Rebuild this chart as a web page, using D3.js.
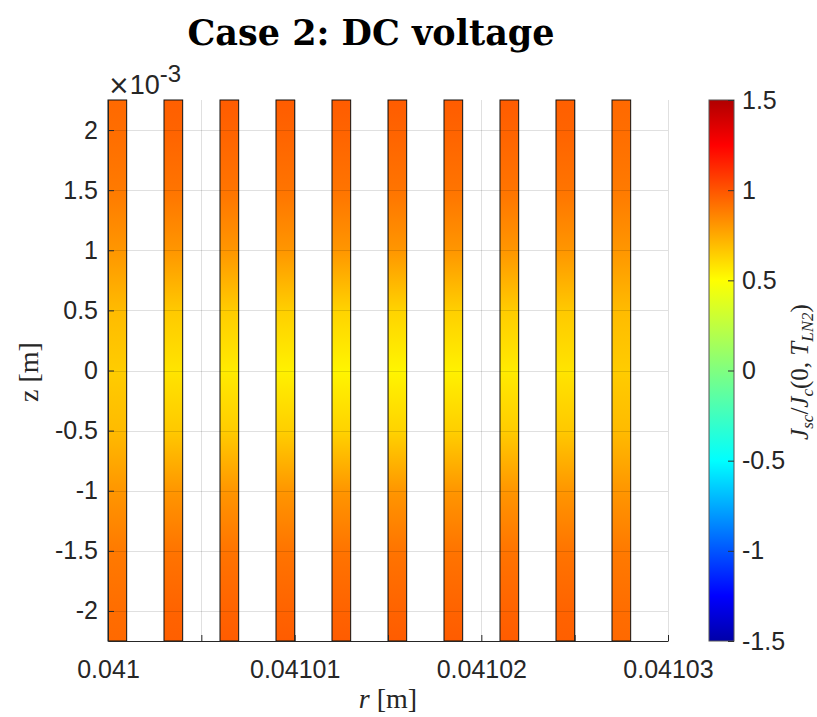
<!DOCTYPE html>
<html>
<head>
<meta charset="utf-8">
<script src="https://cdn.jsdelivr.net/npm/d3@7"></script>
<style>
body { margin: 0; background: #fff; }
</style>
</head>
<body>
<svg id="chart" width="817" height="717"></svg>
<script>
// tape inner radius [m] and thickness
var tapeR = [0.041, 0.041003, 0.041006, 0.041009, 0.041012, 0.041015, 0.041018, 0.041021, 0.041024, 0.041027];
var tapeThick = 1e-6;

// z positions (x1e-3 m) where the current density is read
var zLevels = [-2.25, -2, -1.5, -1, -0.5, 0, 0.5, 1, 1.5, 2, 2.25];

// Jsc/Jc(0,T_LN2) along z, one row per tape
var tapeJ = [
  [0.94, 0.93, 0.89, 0.81, 0.70, 0.65, 0.70, 0.81, 0.89, 0.93, 0.94],
  [0.97, 0.96, 0.91, 0.81, 0.66, 0.58, 0.66, 0.81, 0.91, 0.96, 0.97],
  [0.98, 0.96, 0.91, 0.81, 0.65, 0.56, 0.65, 0.81, 0.91, 0.96, 0.98],
  [0.98, 0.96, 0.91, 0.81, 0.64, 0.54, 0.64, 0.81, 0.91, 0.96, 0.98],
  [0.98, 0.96, 0.91, 0.81, 0.63, 0.53, 0.63, 0.81, 0.91, 0.96, 0.98],
  [0.98, 0.96, 0.91, 0.81, 0.63, 0.53, 0.63, 0.81, 0.91, 0.96, 0.98],
  [0.98, 0.96, 0.91, 0.81, 0.64, 0.54, 0.64, 0.81, 0.91, 0.96, 0.98],
  [0.98, 0.96, 0.91, 0.81, 0.65, 0.56, 0.65, 0.81, 0.91, 0.96, 0.98],
  [0.97, 0.96, 0.91, 0.81, 0.66, 0.58, 0.66, 0.81, 0.91, 0.96, 0.97],
  [0.94, 0.93, 0.89, 0.81, 0.70, 0.65, 0.70, 0.81, 0.89, 0.93, 0.94]
];

var xTicks = [0.041, 0.041005, 0.04101, 0.041015, 0.04102, 0.041025, 0.04103];
var xLabelled = [0.041, 0.04101, 0.04102, 0.04103];
var zTicks = [-2, -1.5, -1, -0.5, 0, 0.5, 1, 1.5, 2];
var cbTicks = [-1.5, -1, -0.5, 0, 0.5, 1, 1.5];

// colormap stops
var cmapValues = [-1.5, -1.25, -0.5, 0, 0.5, 1.25, 1.5];
var cmapColors = ["#0000a8", "#0000ff", "#00ffff", "#80ff80", "#ffff00", "#ff0000", "#b00000"];

var sans = "'Liberation Sans', Arial, sans-serif";
var serif = "'Liberation Serif', 'DejaVu Serif', serif";

var svg = d3.select("#chart");
var defs = svg.append("defs");

var pLeft = 108, pRight = 668, pTop = 100, pBottom = 641;

var x = d3.scaleLinear().domain([0.041, 0.04103]).range([pLeft, pRight]);
var y = d3.scaleLinear().domain([-2.25, 2.25]).range([pBottom, pTop]);
var color = d3.scaleLinear().domain(cmapValues).range(cmapColors).clamp(true);
var cb = d3.scaleLinear().domain([-1.5, 1.5]).range([pBottom, pTop]);

// tapes
var gTapes = svg.append("g");
tapeR.forEach(function(r, i){
  var grad = defs.append("linearGradient")
    .attr("id", "tape" + i)
    .attr("gradientUnits", "userSpaceOnUse")
    .attr("x1", 0).attr("x2", 0)
    .attr("y1", y(zLevels[0])).attr("y2", y(zLevels[zLevels.length - 1]));
  zLevels.forEach(function(z, k){
    grad.append("stop")
      .attr("offset", (y(z) - y(zLevels[0])) / (y(zLevels[zLevels.length - 1]) - y(zLevels[0])))
      .attr("stop-color", color(tapeJ[i][k]));
  });
  gTapes.append("rect")
    .attr("x", x(r))
    .attr("y", y(2.25))
    .attr("width", x(r + tapeThick) - x(r))
    .attr("height", y(-2.25) - y(2.25))
    .attr("fill", "url(#tape" + i + ")")
    .attr("stroke", "#111").attr("stroke-width", 1);
});

// grid
var gGrid = svg.append("g").attr("stroke", "#000").attr("stroke-opacity", 0.12).attr("stroke-width", 1);
xTicks.forEach(function(t){
  gGrid.append("line").attr("x1", Math.round(x(t)) + 0.5).attr("x2", Math.round(x(t)) + 0.5)
    .attr("y1", pTop).attr("y2", pBottom);
});
zTicks.forEach(function(t){
  gGrid.append("line").attr("x1", pLeft).attr("x2", pRight)
    .attr("y1", Math.round(y(t)) + 0.5).attr("y2", Math.round(y(t)) + 0.5);
});

// axes (ticks inward like matlab)
var xAxis = svg.append("g").attr("transform", "translate(0," + pBottom + ")")
  .call(d3.axisBottom(x).tickValues(xTicks).tickSizeInner(-6).tickSizeOuter(0)
    .tickFormat(function(d){
      var lab = xLabelled.some(function(v){ return Math.abs(v - d) < 1e-9; });
      return lab ? String(parseFloat(d.toFixed(5))) : "";
    }));
var yAxis = svg.append("g").attr("transform", "translate(" + pLeft + ",0)")
  .call(d3.axisLeft(y).tickValues(zTicks).tickSizeInner(-6).tickSizeOuter(0)
    .tickFormat(function(d){ return d; }));
[xAxis, yAxis].forEach(function(a){
  a.attr("font-family", null).attr("font-size", null);
  a.select(".domain").attr("stroke", "#262626");
  a.selectAll(".tick line").attr("stroke", "#262626");
  a.selectAll(".tick text").style("font-size", "25px").style("font-family", sans).attr("fill", "#262626");
});
xAxis.selectAll(".tick text").attr("dy", "0.71em").attr("y", 19);
yAxis.selectAll(".tick text").attr("x", -10);

// exponent
var ex = svg.append("text").attr("x", 108).attr("y", 94)
  .style("font-family", sans).style("font-size", "27px").attr("fill", "#262626");
ex.append("tspan").style("font-family", "'DejaVu Sans', sans-serif").style("font-size", "26px").text("\u00d7");
ex.append("tspan").text("10");
ex.append("tspan").attr("dy", -12).style("font-size", "24px").text("-3");

// axis labels
svg.append("text")
  .attr("transform", "translate(38,372) rotate(-90)")
  .attr("text-anchor", "middle").style("font-family", serif).style("font-size", "28px").attr("fill", "#262626")
  .text("z [m]");
var xl = svg.append("text")
  .attr("x", 388).attr("y", 708)
  .attr("text-anchor", "middle").style("font-family", serif).style("font-size", "28px").attr("fill", "#262626");
xl.append("tspan").style("font-style", "italic").text("r");
xl.append("tspan").text(" [m]");

// colorbar
var cbx = 709, cbw = 25;
var cbGrad = defs.append("linearGradient").attr("id", "cbgrad")
  .attr("gradientUnits", "userSpaceOnUse")
  .attr("x1", 0).attr("x2", 0).attr("y1", cb(-1.5)).attr("y2", cb(1.5));
cmapValues.forEach(function(v, k){
  cbGrad.append("stop").attr("offset", (cb(v) - cb(-1.5)) / (cb(1.5) - cb(-1.5)))
    .attr("stop-color", cmapColors[k]);
});
svg.append("rect").attr("x", cbx).attr("y", pTop).attr("width", cbw).attr("height", pBottom - pTop)
  .attr("fill", "url(#cbgrad)").attr("stroke", "#555").attr("stroke-width", 1);
var cbAxis = svg.append("g").attr("transform", "translate(" + (cbx + cbw) + ",0)")
  .call(d3.axisRight(cb).tickValues(cbTicks).tickSizeInner(-6).tickSizeOuter(0)
    .tickFormat(function(d){ return d; }));
cbAxis.attr("font-family", null).attr("font-size", null);
cbAxis.select(".domain").remove();
cbAxis.selectAll(".tick line").attr("stroke", "#333");
cbAxis.selectAll(".tick text").style("font-size", "25px").style("font-family", sans)
  .attr("fill", "#262626").attr("x", 8);

// colorbar label  J_sc / J_c(0, T_LN2)
var cl = svg.append("text")
  .attr("transform", "translate(808,372) rotate(-90)")
  .attr("text-anchor", "middle").style("font-family", serif).style("font-size", "25px").attr("fill", "#262626");
cl.append("tspan").style("font-style", "italic").text("J");
cl.append("tspan").style("font-style", "italic").style("font-size", "17px").attr("dy", 5).text("sc");
cl.append("tspan").attr("dy", -5).text("/");
cl.append("tspan").style("font-style", "italic").text("J");
cl.append("tspan").style("font-style", "italic").style("font-size", "17px").attr("dy", 5).text("c");
cl.append("tspan").attr("dy", -5).text("(0, ");
cl.append("tspan").style("font-style", "italic").text("T");
cl.append("tspan").style("font-style", "italic").style("font-size", "17px").attr("dy", 5).text("LN2");
cl.append("tspan").attr("dy", -5).text(")");

// title
svg.append("text").attr("x", 371).attr("y", 45).attr("text-anchor", "middle")
  .style("font-family", "'DejaVu Serif', serif").style("font-weight", "bold").style("font-size", "35px")
  .attr("fill", "#000")
  .text("Case 2: DC voltage");
</script>
</body>
</html>
